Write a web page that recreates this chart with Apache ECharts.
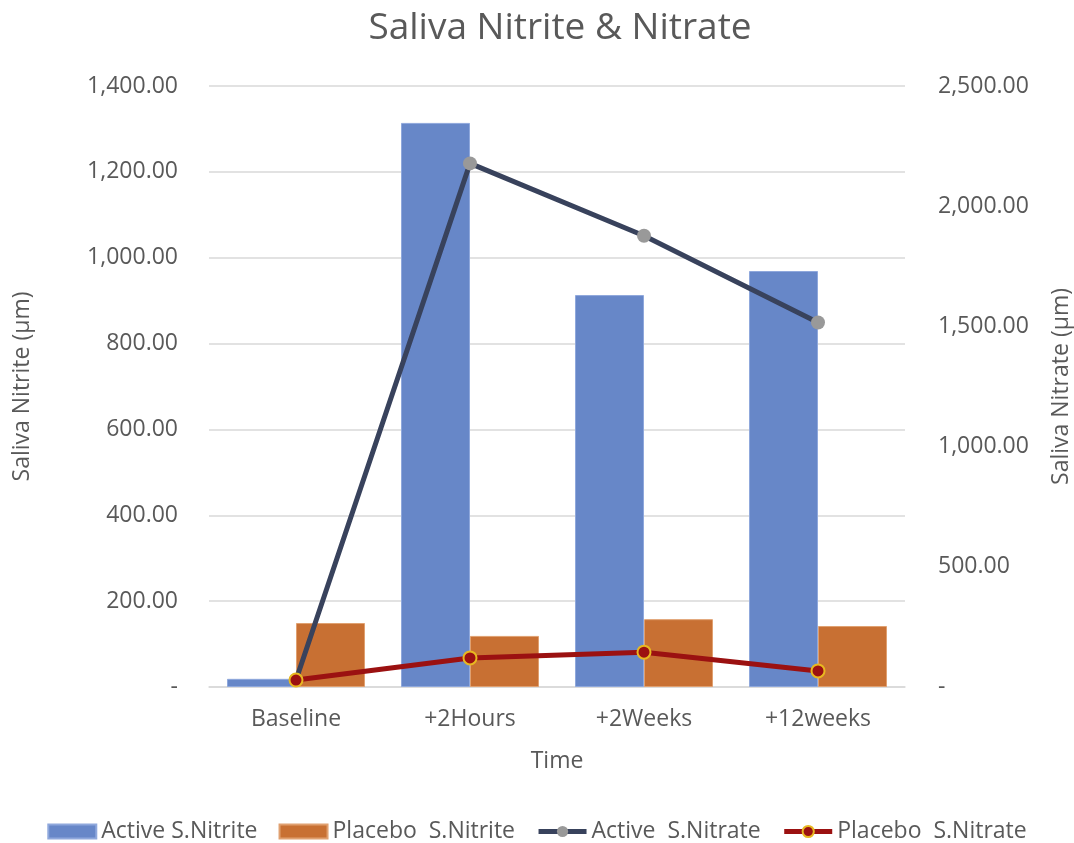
<!DOCTYPE html>
<html>
<head>
<meta charset="utf-8">
<script src="https://cdn.jsdelivr.net/npm/echarts@6/dist/echarts.min.js"></script>
<style>html,body{margin:0;padding:0;background:#fff}#c{width:1074px;height:843px}</style>
</head>
<body>
<div id="c"></div>
<script>
const categories = ['Baseline', '+2Hours', '+2Weeks', '+12weeks'];
const activeNitrite = [19, 1314, 913, 969];
const placeboNitrite = [149, 119, 158, 142];
const activeNitrate = [29, 2178, 1877, 1516];
const placeboNitrate = [29, 121, 145, 67];
const seriesNames = ['Active S.Nitrite', 'Placebo  S.Nitrite', 'Active  S.Nitrate', 'Placebo  S.Nitrate'];

const FONT = '"Open Sans", "Noto Sans", sans-serif';
const TXT = '#595959';
function fmt(v) {
  if (v === 0) return '-';
  return v.toLocaleString('en-US', {minimumFractionDigits: 2, maximumFractionDigits: 2});
}
const chart = echarts.init(document.getElementById('c'));
chart.setOption({
  animation: false,
  backgroundColor: '#fff',
  textStyle: {fontFamily: FONT},
  title: {
    text: 'Saliva Nitrite & Nitrate',
    left: 555, top: 5, textAlign: 'center',
    textStyle: {fontSize: 37, fontWeight: 'normal', color: TXT, fontFamily: FONT}
  },
  legend: {
    top: 815, left: 'center',
    itemWidth: 48, itemHeight: 14, itemGap: 21,
    textStyle: {fontSize: 23, color: TXT, fontFamily: FONT},
    data: [
      {name: seriesNames[0], icon: 'rect'},
      {name: seriesNames[1], icon: 'rect'},
      {name: seriesNames[2], lineStyle: {width: 5}},
      {name: seriesNames[3], lineStyle: {width: 5}}
    ]
  },
  grid: {left: 209, right: 169, top: 86, bottom: 156, outerBoundsMode: 'none'},
  xAxis: {
    type: 'category', data: categories,
    name: 'Time', nameLocation: 'middle', nameGap: 63,
    nameTextStyle: {fontSize: 23, color: TXT},
    axisLine: {lineStyle: {color: '#d9d9d9', width: 1.5}},
    axisTick: {show: false},
    axisLabel: {fontSize: 23, color: TXT, margin: 21}
  },
  yAxis: [
    {
      type: 'value', min: 0, max: 1400, interval: 200,
      name: 'Saliva Nitrite (µm)', nameLocation: 'middle', nameGap: 175, nameRotate: 90,
      nameTextStyle: {fontSize: 23, color: TXT},
      axisLine: {show: false}, axisTick: {show: false},
      axisLabel: {fontSize: 23, color: TXT, margin: 31, formatter: fmt},
      splitLine: {lineStyle: {color: '#d9d9d9', width: 1.5}}
    },
    {
      type: 'value', min: 0, max: 2500, interval: 500,
      name: 'Saliva Nitrate (µm)', nameLocation: 'middle', nameGap: 145, nameRotate: 90,
      nameTextStyle: {fontSize: 23, color: TXT},
      axisLine: {show: false}, axisTick: {show: false},
      axisLabel: {fontSize: 23, color: TXT, margin: 33, formatter: fmt},
      splitLine: {show: false}
    }
  ],
  series: [
    {
      name: seriesNames[0], type: 'bar', data: activeNitrite, yAxisIndex: 0,
      barWidth: 69, barGap: '0%',
      itemStyle: {color: '#6787C8', borderColor: '#8fa8dc', borderWidth: 1}
    },
    {
      name: seriesNames[1], type: 'bar', data: placeboNitrite, yAxisIndex: 0,
      barWidth: 69, barGap: '0%',
      itemStyle: {color: '#C87033', borderColor: '#e0a070', borderWidth: 1}
    },
    {
      name: seriesNames[2], type: 'line', data: activeNitrate, yAxisIndex: 1,
      symbol: 'circle', symbolSize: 14,
      lineStyle: {color: '#38425C', width: 5},
      itemStyle: {color: '#999999', borderWidth: 0}
    },
    {
      name: seriesNames[3], type: 'line', data: placeboNitrate, yAxisIndex: 1,
      symbol: 'circle', symbolSize: 13,
      lineStyle: {color: '#9B1111', width: 5},
      itemStyle: {color: '#9B1111', borderColor: '#E8B820', borderWidth: 2}
    }
  ]
});
</script>
</body>
</html>
